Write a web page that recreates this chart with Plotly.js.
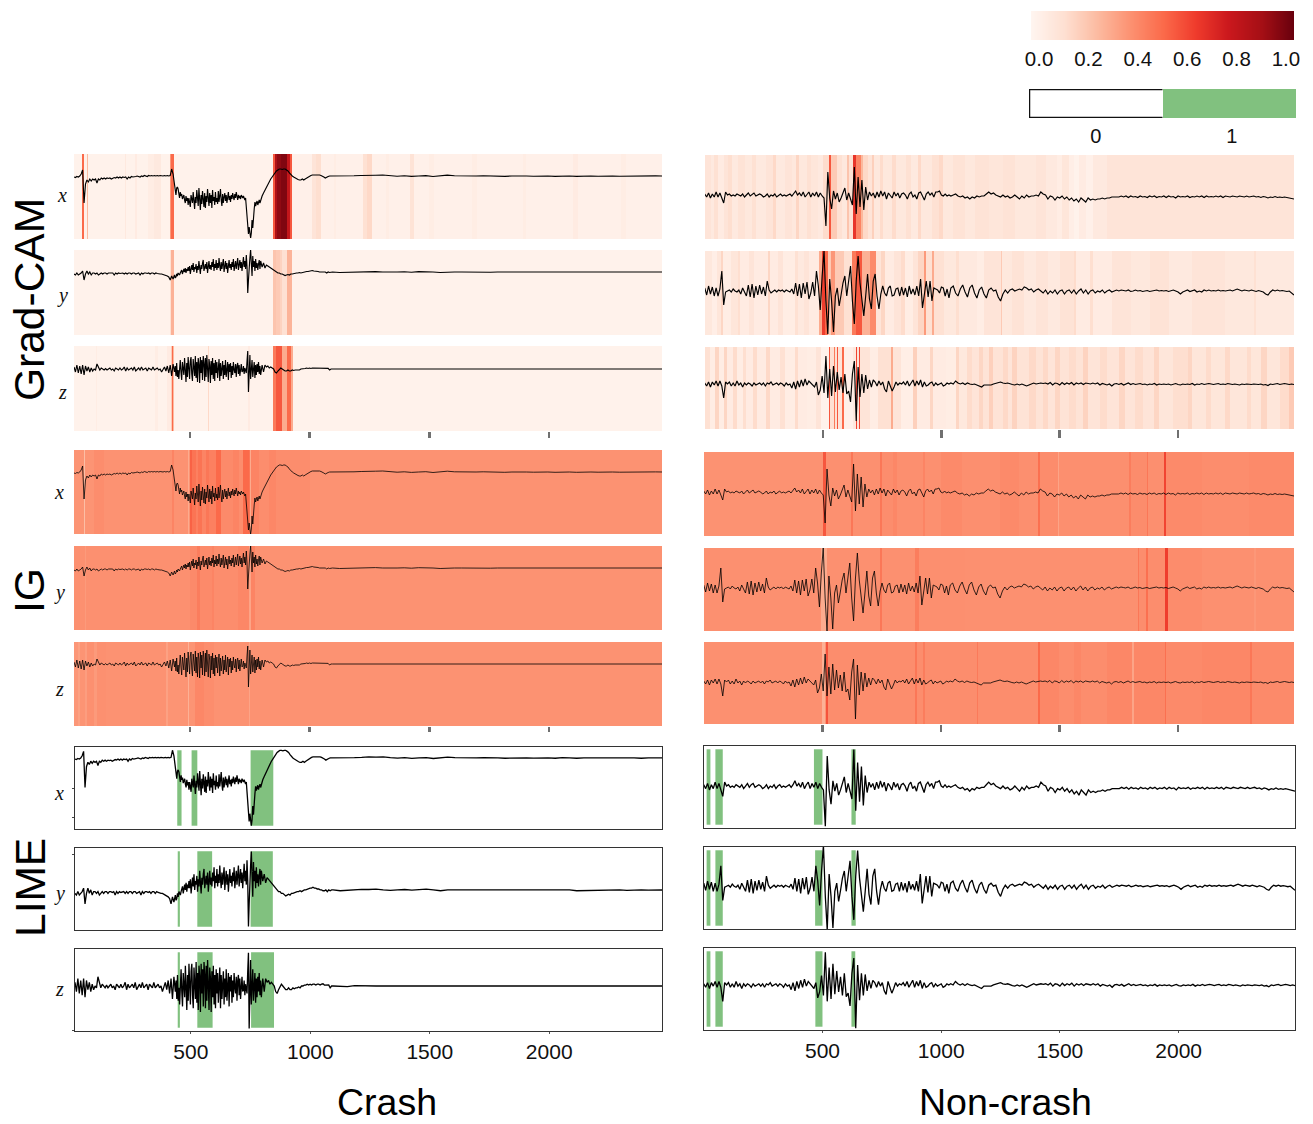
<!DOCTYPE html>
<html><head><meta charset="utf-8">
<script src="https://cdn.plot.ly/plotly-3.0.1.min.js"></script>
<style>html,body{margin:0;padding:0;background:#fff}#g{width:1313px;height:1124px}</style>
</head><body><div id="g"></div>
<script>
// ---- signals. Crash: 70 samples every 6 from 15, 120 samples every 3 from 435, 50 samples every 6 from 795, tail every 30 from 1095.
const crashX = [
-1,-1.5,-0.5,-1,0,2,6,-27,-8,-4,
-6,-3,-5,-3,-4,-3,-7,-3,-4,-2,
-3,-2,-3,-2,-2.5,-2,-3,-2,-1.5,-2,
-1,-2,-1,-2,-1,-1.5,-1,-3,-1,-2,
-0.5,-1,-1,-0.5,0,-0.5,-1,0,-0.5,0.5,
0,-0.5,0.5,0,0.5,0,0.5,0,0.5,0,
0.5,0,0,0.5,0,0.5,0,0.5,7,2,
-9,-14,-19,-12,-11,-13,-17,-22,-16,-20,
-18,-23,-21,-19,-24,-27,-20,-25,-22,-29,
-22,-26,-31,-19,-24,-27,-16,-29,-33,-21,
-27,-14,-23,-30,-12,-26,-34,-19,-28,-15,
-25,-31,-17,-32,-20,-26,-13,-24,-30,-17,
-27,-19,-32,-14,-25,-21,-29,-16,-26,-22,
-28,-15,-26,-20,-13,-24,-30,-18,-27,-21,
-17,-25,-19,-27,-22,-16,-24,-20,-26,-19,
-23,-17,-21,-24,-18,-22,-16,-20,-24,-19,
-22,-20,-23,-19,-21,-22,-20,-23,-24,-22,
-33,-42,-54,-58,-51,-60,-62,-57,-44,-52,
-37,-33,-26,-30,-27,-25,-29,-26,-24,-27,
-24,-20,-17,-14,-11,-8,-5,-3,-1,1,
4,5,6,7,7,6.5,7,7,6,5,
3,1,0,-1,-2,-3,-3.5,-4,-4,-3,
-4,-3,-2,-1,0,0.5,1,1,1.5,1,
1.5,1,0.5,0,-1,-2,-1,-0.5,0,0,
0,0.3,-0.3,0.2,0.5,1,0.8,1,0.3,-0.2,0.2,-0.4,0,0.3,-0.5,0,0.8,0.2,0,-0.3,0,0.2,-0.2,0,-0.3,0,0.2,0,-0.2,0.1,0,-0.3,0.2,0,-0.3,0.1,0,-0.2,0.2,0,-0.2,0,0.1,-0.3,0,0.1,0,0];
const crashY = [
-2,-3,-1,-3,-2,-1,1,-8,-2,1,
-2,0,-3,-1,-1,-2,-1,-3,-2,-1,
-2,-1,-1,-2,-1,-1,-1.5,-1,-3,-1,
-2,-1,-1.5,-1,-1,-2,-1,-2,-1,-1,
-2,-1,-1,-2,-1.5,-1,-3,-1,-2,-1,
-1,-1.5,-1,-2,-1,-1,-2,-1,-1.5,-2,
-2,-2,-2.5,-3,-3,-4,-5,-8,-4,-7,
-3,-6,-5,-2,-4,-1,-2,-3,-1,0,
2,-2,1,3,0,4,-1,3,1,5,
1,6,-2,4,7,2,9,0,5,3,
8,-1,6,2,11,4,-2,7,3,9,
12,1,6,8,3,10,-1,5,11,3,
7,2,10,5,13,1,8,4,12,2,
9,4,14,6,1,10,3,8,13,0,
6,11,3,9,-1,7,12,4,8,2,
10,5,13,1,7,11,3,9,14,2,
6,12,4,10,1,8,15,5,11,3,
17,5,-21,-8,9,14,22,2,-4,16,
5,11,1,13,4,9,2,8,12,3,
11,5,9,4,7,6,5,4,3,2,
1,0,-1,-1,-2,-2,-3,-3.5,-3,-2.5,
-3,-2,-2,-1.5,-1.5,-1,-1,-0.5,-1,-0.5,
0,0,0.5,0.5,1,1,1.5,1,1,0.5,
0.5,0,0,-0.5,-0.5,0,-1,0,-0.5,0,
0,-0.5,-0.2,0,0.3,0.2,0.4,0,-0.3,0,0.2,-0.2,0.3,0.4,0,-0.5,0,0,0,-0.2,0,0,-0.2,0,0,-0.3,0,0,-0.2,0,0,-0.2,0,0,-0.5,-0.4,0,0,-0.2,0,0,-0.3,0,0,-0.2,0,0,0];
const crashZ = [
2,-3,4,-4,3,-5,4,-6,3,-2,
2,-3,1,-2,0,-1,5,1,-1,1,
0,-1,0.5,-1,0,1,-1,0,-2,1,
0,-1,1,-1,0,2,-2,1,-1,0,
1,-1,2,-2,0,1,-1,2,-1,0,
1,-2,1,0,-1,2,-1,0,1,-1,
0,-3,-1,2,-2,3,-4,4,-7,5,
-3,3,-7,6,-8,-1,-10,4,9,-3,
-11,7,2,-6,11,-2,-13,6,-8,12,
3,-10,8,12,-5,-12,10,2,-7,13,
-9,7,-13,11,5,-14,12,-4,9,-11,
13,6,-12,11,-8,14,-3,-13,10,4,
-14,8,-6,11,-10,6,-12,9,-4,7,
-9,3,10,-12,6,-7,-2,8,-10,4,
-6,9,-8,2,7,-11,5,-3,6,-9,
3,-6,7,-1,-4,5,-8,3,6,-5,
4,-7,2,5,-3,-2,3,-5,1,-2,
-4,8,18,-23,-5,14,-10,6,9,-8,
2,7,-9,4,-6,5,-3,7,-5,3,
-6,4,-3,4,2,3,1,2,1,0,
-3,-4,-2,0,1,0,-1,-2,-2,-1,
-2,-2,-1,-1.5,-1,-1,-0.5,-1,0,0,
0.5,0.5,1,0.5,1,0.5,1,1,0.5,1,
1,0.5,1,1.2,0.5,0.5,0.8,0.6,-1,0,
0,0,-0.3,0.2,0,0,0,0,0,0,0,0,0,0,0,0,0,0,0,0,0,0,0,0,0,0,0,0,0,0,0,0,0,0,0,0,0,0,0,0,0,0,0,0,0,0,0,0];

// Non-crash: 130 samples every 8 from 0; tail every 10 from 1040.
const noncrashX = [
1,-2,2,-3,1,-2,3,-2,2,-3,
-8,3,0,1,-1,0,-1,1,0,-1,
1,-2,0,2,-1,1,2,-1,0,1,
0,-2,-1,1,-2,0,-1,1,-2,0,
1,-1,0,-1,0,1,-1,1,4,0,
2,-1,3,-2,1,3,-2,2,-1,3,
-2,2,-1,-3,-31,23,-3,-14,4,-4,
2,-7,-3,3,7,-5,2,-4,-10,28,
-19,18,-12,15,-15,8,-5,3,-1,2,
-3,3,-2,4,-1,3,-4,2,0,-3,
3,-1,2,-3,1,2,0,-4,1,3,
-2,0,-4,2,3,-1,-5,1,3,0,
2,-2,3,3,4,0,-1,1,-1,0,
-1,0,1,-1,-2,-1,-3,-2,-4,-2,
-3,-1,-2,-1,-1,1,3,1,2,0,
-1,-2,0,-2,-1,-3,-2,0,-2,-4,
-1,-3,0,-2,-1,-1,0,-1,3,1,
0,-4,-1,-2,-5,-2,-3,-1,-4,-2,
-5,-3,-6,-4,-7,-3,-5,-7,-3,-5,
-4,-5,-4,-4,-3,-4,-3,-3,-2,-2,
-1.5,-2,-1,-2,-1,-2.5,-1,-2,-1.5,-2.5,
-1,-2,-1.5,-2.5,-1,-2,-1,-2.5,-1.5,-2,
-1,-2.5,-1,-2,-1.5,-3,-1,-2,-1.5,-2,
-1,-2.5,-1.5,-2,-1,-2,-1,-2.5,-1,-2,
-1.5,-2,-1,-2,-1,-2.5,-1,-1.5,-2,-1,
-1.5,-2,-1,-1.5,-2,-1,-2,-1.5,-1,-2,
-1.5,-2.5,-1.5,-2,-3,-2,-2.5,-1.5,-2.5,-2,
-2.5,-2,-2.5,-3,-3,-4];
const noncrashY = [
3,-4,5,-3,4,-5,3,-5,2,20,
-14,-1,0,1,-1,2,0,-1,1,-3,
3,-1,-5,6,-6,7,-7,5,-4,6,
-3,4,-5,10,1,-2,0,1,-1,1,
0,1,-1,1,0,-1,2,-3,8,-5,
7,-7,8,-3,9,-8,-2,9,-5,20,
5,-19,15,40,-10,-43,12,-10,-41,-5,
3,-15,-4,8,15,-5,10,25,-10,-33,
10,35,8,-12,-25,-5,17,-8,-18,10,
17,-5,-18,-3,5,-2,-5,3,5,-5,
-4,2,3,-5,4,-4,3,-6,5,-3,
2,-4,5,-5,12,-17,-3,10,-6,10,
-10,3,2,1,-2,4,3,-5,2,-7,
3,5,-2,-5,2,6,-1,-6,3,6,
-2,-7,1,4,-3,-7,1,3,0,1,
-6,-10,-3,1,-2,1,2,0,1,2,
1,4,3,1,2,-1,1,2,0,-2,
1,-3,0,-2,1,-3,0,1,-3,0,
1,-2,1,-3,0,2,-2,1,-3,0,
1,-2,0,-1,1,-2,0,1,-1,0,
1,0,1,0.5,0,1,-0.5,0,1,0,
0.5,-0.5,0,0.5,-0.5,0,0.5,1,0,0.5,
0,0.5,-0.5,0,1,0,-1,-3,-1,0,
1,-0.5,0,1,-1,0,-1,1,0,1,
0,0.5,0,1,0,0.5,0,0.5,1,0,
1,2,1,0,1,0.5,0,1,0,-0.5,
0.5,0,-1,-3,-4,-1,1,0,1,0,
0.5,0,-0.5,0,-2,-4];
const noncrashZ = [
1,-2,2,-3,2,-1,3,-2,3,-2,
-14,2,0,2,-2,1,-2,3,-1,1,
-3,1,-1,1,0,-2,1,-1,0,1,
-1,1,-2,1,0,2,-1,0,1,-1,
1,0,-2,1,-1,0,-4,2,-5,3,
-3,4,-2,5,-1,3,1,0,-3,2,
-11,-6,8,-9,28,-14,15,-12,18,-8,
12,-6,7,-9,10,-10,-7,-18,10,23,
-37,17,-13,10,-9,9,-5,4,-3,4,
2,-2,3,-1,2,-5,-8,3,-2,-7,
-3,2,-1,1,0,2,-1,3,-2,1,
4,-2,3,-1,4,-3,2,-2,-1,1,
2,-2,1,-1,0,1,-2,-1,1,0,
1,0,3,1,0,1,-0.5,1,0,-0.5,
0,-1,-2,-3,-1,-1,-0.5,-1,0,0.5,
1,2,1,0.5,1,0,-0.5,-1,0,-1,
0,-1,-2,-1,0,1,0,0.5,1,0.5,
1,0,1.5,-1,1,0.5,-1,1.5,-0.5,1,
0,1.5,-1,1,0,1,-0.5,1,0.5,0,
1,0,1,-1,0.5,0,-1,0,-2,0,
0.5,-0.5,0.5,-1,0,1,-0.5,0.5,-0.5,0,
0.5,-0.5,0,-1,0,-0.5,0.5,-1,0,-0.5,
0,-0.5,0,-1,-0.5,0.5,-0.5,-1,0,-0.5,
0,-0.5,0.5,-1,0,-0.5,0.5,-0.5,0,0.5,
0,-0.5,0,0.5,-0.5,0,-0.5,0.5,0,-0.5,
0,-0.5,-1,0,-0.5,0,-0.5,-0.5,0,-0.5,
-0.5,0,-1,-0.5,-1.5,0,-0.5,0,0.5,-0.5,
0,0.5,0,-0.5,0,-0.5];

// ---- attribution bands: [start, value, start, value, ...]
const gcCrashX = [15,.02,50,.5,57,.03,71,.25,75,.02,227,.07,234,.02,270,.06,280,.02,325,.05,350,.07,380,.02,416,.35,422,.5,432,.02,845,.55,853,.85,865,.92,880,.95,905,.78,918,.55,927,.03,1009,.1,1025,.13,1045,.03,1100,.05,1110,.03,1223,.12,1240,.15,1262,.03,1320,.05,1330,.03,1420,.11,1437,.03,1500,.05,1520,.03,1680,.05,1700,.03,1890,.05,1905,.03,2100,.06,2120,.03,2300,.05,2320,.03];
const gcCrashY = [15,.02,415,.12,421,.28,432,.02,848,.22,860,.2,875,.17,885,.12,905,.27,925,.02];
const gcCrashZ = [15,.02,105,.05,112,.02,355,.05,365,.02,405,.06,420,.2,424,.5,428,.25,434,.02,575,.15,578,.02,740,.06,750,.02,848,.45,860,.55,885,.3,905,.5,920,.3,928,.02];
const gcNonX = [1,.1,25,.07,40,.12,55,.06,80,.1,100,.13,115,.07,140,.11,170,.08,200,.12,215,.07,260,.1,290,.15,300,.07,340,.1,370,.08,385,.16,400,.08,430,.12,450,.09,480,.07,500,.14,525,.55,534,.2,560,.12,580,.08,600,.22,610,.12,625,.65,641,.42,660,.26,670,.15,690,.1,705,.18,715,.08,740,.14,755,.08,790,.14,810,.08,850,.12,870,.07,900,.15,915,.08,960,.12,990,.15,1005,.08,1050,.11,1100,.08,1140,.11,1200,.09,1260,.11,1310,.08,1400,.1,1440,.07,1490,.05,1510,.09,1540,.04,1560,.02,1580,.06,1610,.03,1640,.07,1700,.1];
const gcNonY = [1,.08,30,.04,50,.09,68,.16,75,.05,110,.09,140,.13,150,.06,185,.1,210,.06,268,.16,276,.06,310,.1,330,.05,380,.12,395,.07,420,.1,440,.06,484,.3,495,.62,510,.5,522,.2,533,.36,550,.2,590,.12,623,.45,640,.55,665,.28,697,.4,722,.1,745,.16,760,.06,800,.1,830,.14,845,.05,880,.1,900,.16,928,.35,936,.12,960,.3,970,.12,1010,.08,1060,.13,1075,.07,1150,.05,1180,.1,1250,.2,1258,.08,1300,.11,1350,.07,1400,.1,1450,.07,1500,.11,1560,.14,1570,.06,1630,.13,1640,.06,1720,.1,1800,.08,1880,.11,1960,.07,2060,.1,2200,.08,2320,.12,2330,.07];
const gcNonZ = [1,.12,20,.05,45,.16,60,.05,80,.16,95,.06,120,.14,135,.05,160,.13,175,.06,205,.14,220,.06,260,.15,275,.06,320,.12,340,.05,380,.14,395,.06,430,.05,470,.1,490,.02,525,.55,530,.12,544,.45,549,.12,558,.55,562,.1,582,.5,588,.03,625,.08,640,.6,644,.1,653,.6,657,.1,700,.05,730,.12,788,.3,796,.1,830,.04,880,.18,895,.06,950,.16,965,.06,1020,.05,1060,.16,1075,.08,1110,.14,1130,.1,1160,.16,1175,.11,1200,.18,1220,.11,1260,.15,1280,.1,1300,.17,1320,.11,1370,.15,1400,.11,1430,.15,1450,.1,1480,.16,1500,.11,1540,.14,1570,.11,1600,.17,1620,.1,1670,.14,1700,.1,1750,.16,1775,.1,1820,.14,1850,.1,1900,.16,1920,.09,1980,.13,2040,.16,2060,.09,2120,.14,2140,.09,2200,.15,2220,.09,2290,.14,2310,.09,2350,.16,2375,.09,2430,.14,2470,.2];
const igCrashX = [15,.37,57,.24,62,.37,100,.39,140,.375,425,.42,432,.375,490,.3,496,.37,500,.52,510,.47,525,.43,535,.47,550,.42,565,.46,580,.43,607,.5,628,.4,680,.42,705,.39,723,.5,745,.46,750,.3,756,.42,790,.39,830,.41,860,.39,1000,.375];
const igCrashY = [15,.38,60,.35,66,.38,500,.4,530,.44,540,.4,590,.42,600,.39,700,.41,745,.32,755,.42,770,.375];
const igCrashZ = [15,.36,30,.33,38,.37,60,.34,70,.38,100,.35,110,.38,150,.375,400,.33,407,.37,490,.28,496,.37,520,.41,560,.39,600,.375,745,.32,752,.375];
const igNonX = [1,.375,505,.55,515,.38,620,.46,628,.38,742,.46,750,.39,800,.41,815,.385,925,.42,935,.38,1000,.4,1090,.385,1250,.4,1330,.385,1410,.48,1418,.395,1495,.32,1500,.385,1795,.44,1803,.395,1868,.46,1875,.385,1942,.6,1950,.4,2100,.39,2300,.4];
const igNonY = [1,.38,495,.3,518,.38,742,.46,750,.38,893,.44,910,.385,1100,.38,1832,.46,1838,.39,1865,.48,1872,.39,1945,.62,1958,.395,2100,.38,2320,.36,2330,.38];
const igNonZ = [1,.38,500,.28,510,.37,516,.56,524,.39,892,.46,900,.39,925,.44,932,.39,1153,.45,1158,.39,1412,.5,1420,.41,1500,.39,1560,.41,1590,.39,1700,.41,1805,.32,1815,.41,1945,.48,1952,.4,2100,.41,2305,.46,2312,.4];

// ---- LIME: [start, end, start, end, ...]
const limeCrashX = [443,461,503,527,750,845];
const limeCrashY = [445,454,527,589,750,843];
const limeCrashZ = [445,454,527,591,752,848];
const limeNonX = [12,28,49,80,464,500,622,640];
const limeNonY = [12,28,49,80,469,500,622,640];
const limeNonZ = [12,28,49,80,470,500,622,638];
const limeCrashXTicks = [-28,-54.5];
const limeCrashYTicks = [20.5];
const limeCrashZTicks = [-23.8];

// ---- ticks, legend
const xTicks = [500,1000,1500,2000];
const colorbarTicks = [0,0.2,0.4,0.6,0.8,1];
const colorbarTickText = ['0.0','0.2','0.4','0.6','0.8','1.0'];
const colorbarStops = [0,0.1,0.2,0.3,0.4,0.5,0.6,0.7,0.8,0.9,1];
const binaryValues = [0,1];
const binaryTickPos = [0,1.02];
const binaryTickText = ['0','1'];

const REDS = [[0,'#fff5f0'],[.125,'#fee0d2'],[.25,'#fcbba1'],[.375,'#fc9272'],[.5,'#fb6a4a'],[.625,'#ef3b2c'],[.75,'#cb181d'],[.875,'#a50f15'],[1,'#67000d']];
const GREEN = '#81c17f';
const W = 1313, H = 1124;

function timeBase(segs){const t=[];segs.forEach(s=>{for(let i=0;i<s[2];i++)t.push(s[0]+s[1]*i);});return t;}
const crashTime = timeBase([[15,6,70],[435,3,120],[795,6,50],[1095,30,48]]);
const noncrashTime = timeBase([[0,8,130],[1040,10,146]]);
const SIG = {
  cx:{x:crashTime,y:crashX}, cy:{x:crashTime,y:crashY}, cz:{x:crashTime,y:crashZ},
  nx:{x:noncrashTime,y:noncrashX}, ny:{x:noncrashTime,y:noncrashY}, nz:{x:noncrashTime,y:noncrashZ}
};
const XL = [15,2472], XR = [1,2490];
const panels = [
 {k:'gc',s:'cx',b:gcCrashX,r:[74,154,662,239],yr:[-63,22],xr:XL,lw:1.15},
 {k:'gc',s:'cy',b:gcCrashY,r:[74,250,662,335],yr:[-63,22],xr:XL,lw:1.15},
 {k:'gc',s:'cz',b:gcCrashZ,r:[74,346,662,431],yr:[-62,23],xr:XL,lw:1.15,t:6},
 {k:'gc',s:'nx',b:gcNonX,r:[705,155,1294,239],yr:[-44,40],xr:XR,lw:1.15},
 {k:'gc',s:'ny',b:gcNonY,r:[705,251,1294,335],yr:[-44,40],xr:XR,lw:1.15},
 {k:'gc',s:'nz',b:gcNonZ,r:[705,347,1294,429],yr:[-45,37],xr:XR,lw:1.15,t:8},
 {k:'ig',s:'cx',b:igCrashX,r:[74,450,662,534],yr:[-62,22],xr:XL,lw:.8},
 {k:'ig',s:'cy',b:igCrashY,r:[74,546,662,630],yr:[-62,22],xr:XL,lw:.8},
 {k:'ig',s:'cz',b:igCrashZ,r:[74,642,662,726],yr:[-62,22],xr:XL,lw:.8,t:5},
 {k:'ig',s:'nx',b:igNonX,r:[704,452,1294,536],yr:[-44,40],xr:XR,lw:.8},
 {k:'ig',s:'ny',b:igNonY,r:[704,548,1294,631],yr:[-43,40],xr:XR,lw:.8},
 {k:'ig',s:'nz',b:igNonZ,r:[704,642,1294,724],yr:[-42,40],xr:XR,lw:.8,t:7},
 {k:'li',s:'cx',b:limeCrashX,r:[75,747,662,829],yr:[-65,10],xr:XL,lw:1.3,yt:limeCrashXTicks},
 {k:'li',s:'cy',b:limeCrashY,r:[75,848,662,930],yr:[-23,24],xr:XL,lw:1.3,yt:limeCrashYTicks},
 {k:'li',s:'cz',b:limeCrashZ,r:[75,949,662,1031],yr:[-24.3,20],xr:XL,lw:1.3,lab:1,yt:limeCrashZTicks},
 {k:'li',s:'nx',b:limeNonX,r:[704,746,1295,828],yr:[-32.3,30.8],xr:XR,lw:1.3},
 {k:'li',s:'ny',b:limeNonY,r:[704,847,1295,929],yr:[-42,38.5],xr:XR,lw:1.3},
 {k:'li',s:'nz',b:limeNonZ,r:[704,948,1295,1030],yr:[-38.5,31.6],xr:XR,lw:1.3,lab:1}
];

const data = [], layout = {
  width:W,height:H,margin:{l:0,r:0,t:0,b:0},paper_bgcolor:'#fff',plot_bgcolor:'rgba(0,0,0,0)',
  showlegend:false,barmode:'overlay',font:{family:'"Liberation Sans",Arial,sans-serif',color:'#111'},
  annotations:[],shapes:[]
};
function addAxes(n,r,xopt,yopt){
  const sfx=n===1?'':n;
  layout['xaxis'+sfx]=Object.assign({domain:[r[0]/W,r[2]/W],anchor:'y'+sfx,showgrid:false,zeroline:false,showticklabels:false,ticks:''},xopt);
  layout['yaxis'+sfx]=Object.assign({domain:[1-r[3]/H,1-r[1]/H],anchor:'x'+sfx,showgrid:false,zeroline:false,showticklabels:false,ticks:''},yopt);
  return {x:'x'+sfx,y:'y'+sfx};
}
panels.forEach((p,i)=>{
  const n=i+1;
  const xo={range:p.xr,type:'linear'}, yo={range:p.yr,type:'linear'};
  if(p.t){Object.assign(xo,{tickmode:'array',tickvals:xTicks,ticks:'outside',ticklen:p.t,tickwidth:2.5,tickcolor:'#707070'});}
  if(p.k==='li'){
    Object.assign(xo,{showline:true,mirror:true,linecolor:'#333',linewidth:1});
    Object.assign(yo,{showline:true,mirror:true,linecolor:'#333',linewidth:1});
    if(p.lab){Object.assign(xo,{tickmode:'array',tickvals:xTicks,ticktext:xTicks.map(String),showticklabels:true,ticks:'outside',ticklen:2,tickwidth:1,tickcolor:'#555',tickfont:{size:21,color:'#111'}});}
    if(p.yt){Object.assign(yo,{tickmode:'array',tickvals:p.yt,ticks:'outside',ticklen:2,tickwidth:1,tickcolor:'#444'});}
  }
  const a=addAxes(n,p.r,xo,yo);
  if(p.k==='li'){
    const span=p.yr[1]-p.yr[0], lo=p.yr[0]+span*.04, hi=p.yr[1]-span*.04;
    const xs=[],ws=[];
    for(let j=0;j<p.b.length;j+=2){xs.push((p.b[j]+p.b[j+1])/2);ws.push(p.b[j+1]-p.b[j]);}
    data.push({type:'bar',x:xs,y:xs.map(()=>hi-lo),base:xs.map(()=>lo),width:ws,marker:{color:GREEN,line:{width:0}},xaxis:a.x,yaxis:a.y,hoverinfo:'skip'});
  } else {
    const edges=[],vals=[];
    for(let j=0;j<p.b.length;j+=2){edges.push(p.b[j]);vals.push(p.b[j+1]);}
    edges.push(p.xr[1]);
    data.push({type:'heatmap',x:edges,y:p.yr,z:[vals],zmin:0,zmax:1,colorscale:REDS,showscale:false,xaxis:a.x,yaxis:a.y,hoverinfo:'skip'});
  }
  const sg=SIG[p.s];
  data.push({type:'scatter',mode:'lines',x:sg.x,y:sg.y,line:{color:'#000',width:p.lw},xaxis:a.x,yaxis:a.y,hoverinfo:'skip'});
});
// legends
const cbn=panels.length+1;
const cba=addAxes(cbn,[1031,11,1294,40],{range:[-0.0325,1.0325],tickmode:'array',tickvals:colorbarTicks,ticktext:colorbarTickText,showticklabels:true,tickfont:{size:20.5,color:'#111'},ticklen:0,ticks:'outside',tickcolor:'rgba(0,0,0,0)'},{range:[0,1]});
data.push({type:'heatmap',x:colorbarStops.map(v=>-0.0325+1.065*v),y:[0,1],z:[colorbarStops,colorbarStops],zmin:0,zmax:1,zsmooth:'best',colorscale:REDS,showscale:false,xaxis:cba.x,yaxis:cba.y,hoverinfo:'skip'});
const bn=cbn+1;
const ba=addAxes(bn,[1029,89,1296,118],{range:[-0.5,1.5],tickmode:'array',tickvals:binaryTickPos,ticktext:binaryTickText,showticklabels:true,tickfont:{size:20,color:'#111'},ticklen:0,ticks:'outside',tickcolor:'rgba(0,0,0,0)'},{range:[0,1]});
data.push({type:'heatmap',x:binaryValues,y:[0,1],z:[binaryValues],zmin:0,zmax:1,colorscale:[[0,'#fff'],[1,GREEN]],showscale:false,xaxis:ba.x,yaxis:ba.y,hoverinfo:'skip'});
layout.shapes.push({type:'path',xref:ba.x,yref:ba.y,path:'M 0.5 0 L -0.5 0 L -0.5 1 L 0.5 1',line:{color:'#111',width:2.5}});

function note(text,px,py,size,extra){
  layout.annotations.push(Object.assign({text,x:px/W,y:1-py/H,xref:'paper',yref:'paper',showarrow:false,xanchor:'center',yanchor:'middle',font:{size,color:'#000'}},extra||{}));
}
note('Grad-CAM',30,300,42.5,{textangle:-90});
note('IG',30,591,42.5,{textangle:-90});
note('LIME',30,888,42.5,{textangle:-90});
note('Crash',387,1102,37.5);
note('Non-crash',1006,1102,37.5);
const serif={family:'"Liberation Serif","Times New Roman",serif',size:20,color:'#111'};
[['x',62,195],['y',62,295],['z',62,392],['x',59,492],['y',59,592],['z',59,689],['x',59,793],['y',59,893],['z',59,989]].forEach(l=>{
  note('<i>'+l[0]+'</i>',l[1],l[2],20,{font:serif});
});
Plotly.newPlot('g',data,layout,{displayModeBar:false,staticPlot:true});
</script></body></html>
